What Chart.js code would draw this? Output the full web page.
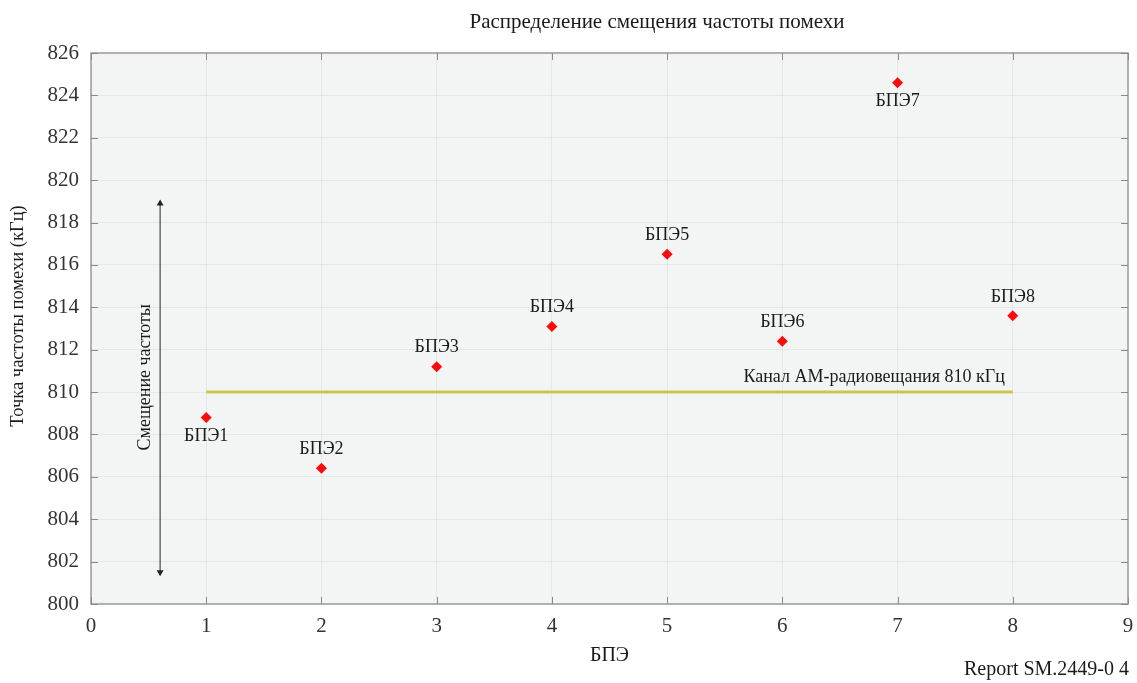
<!DOCTYPE html>
<html>
<head>
<meta charset="utf-8">
<script src="https://cdn.jsdelivr.net/npm/chart.js@4.4.1/dist/chart.umd.min.js"></script>
<style>
  html, body { margin: 0; padding: 0; background: #ffffff; }
  #wrap { width: 1137px; height: 683px; position: relative; }
</style>
</head>
<body>
<div id="wrap"><canvas id="c" width="1137" height="683"></canvas></div>
<script>
// Interference frequency per station (kHz)
const stations = [1, 2, 3, 4, 5, 6, 7, 8];
const stationNames = ['БПЭ1', 'БПЭ2', 'БПЭ3', 'БПЭ4', 'БПЭ5', 'БПЭ6', 'БПЭ7', 'БПЭ8'];
const freqKHz = [808.8, 806.4, 811.2, 813.1, 816.5, 812.4, 824.6, 813.6];
// label placement relative to the marker: 1 = above, -1 = below
const labelSide = [-1, 1, 1, 1, 1, 1, -1, 1];

// AM broadcast channel reference line
const channelKHz = 810;
const channelSpan = [1, 8];
const channelLabel = 'Канал АМ-радиовещания 810 кГц';

// Frequency offset range arrow
const offsetArrowX = 0.6;
const offsetArrowY = [801.5, 818.9];
const offsetLabel = 'Смещение частоты';

const xTicks = [0, 1, 2, 3, 4, 5, 6, 7, 8, 9];
const yTicks = [800, 802, 804, 806, 808, 810, 812, 814, 816, 818, 820, 822, 824, 826];

const chartTitle = 'Распределение смещения частоты помехи';
const yTitle = 'Точка частоты помехи (кГц)';
const xTitle = 'БПЭ';
const reportNo = 'Report SM.2449-0 4';

const serif = '"Liberation Serif", "Times New Roman", serif';

const pointData = stations.map((s, i) => ({ x: s, y: freqKHz[i] }));
const channelData = channelSpan.map(x => ({ x: x, y: channelKHz }));
const arrowData = offsetArrowY.map(y => ({ x: offsetArrowX, y: y }));

// Plot background, box frame and inward tick marks
const framePlugin = {
  id: 'frame',
  beforeDraw(chart) {
    const { ctx, chartArea: a } = chart;
    ctx.save();
    ctx.fillStyle = '#f3f5f5';
    ctx.fillRect(a.left, a.top, a.right - a.left, a.bottom - a.top);
    ctx.restore();
  },
  afterDatasetsDraw(chart) {
    const { ctx, chartArea: a, scales } = chart;
    ctx.save();
    ctx.strokeStyle = '#9a9a9a';
    ctx.lineWidth = 1.5;
    ctx.strokeRect(a.left, a.top, a.right - a.left, a.bottom - a.top);
    ctx.lineWidth = 1;
    ctx.strokeStyle = '#8a8a8a';
    const len = 7;
    ctx.beginPath();
    xTicks.forEach(v => {
      const px = Math.round(scales.x.getPixelForValue(v)) + 0.5;
      ctx.moveTo(px, a.bottom); ctx.lineTo(px, a.bottom - len);
      ctx.moveTo(px, a.top); ctx.lineTo(px, a.top + len);
    });
    yTicks.forEach(v => {
      const py = Math.round(scales.y.getPixelForValue(v)) + 0.5;
      ctx.moveTo(a.left, py); ctx.lineTo(a.left + len, py);
      ctx.moveTo(a.right, py); ctx.lineTo(a.right - len, py);
    });
    ctx.stroke();
    ctx.restore();
  }
};

// Titles, station names, channel caption, offset caption and report number
const labelsPlugin = {
  id: 'labels',
  afterDatasetsDraw(chart) {
    const { ctx, scales, chartArea: a } = chart;
    const meta = chart.getDatasetMeta(0);
    ctx.save();
    ctx.fillStyle = '#1a1a1a';
    ctx.textBaseline = 'middle';

    ctx.font = '21px ' + serif;
    ctx.textAlign = 'center';
    ctx.fillText(chartTitle, 657, 22);

    ctx.font = '18px ' + serif;
    meta.data.forEach((el, i) => {
      ctx.fillText(stationNames[i], el.x, el.y - labelSide[i] * 19);
    });

    ctx.textAlign = 'right';
    ctx.fillText(channelLabel, scales.x.getPixelForValue(channelSpan[1]) - 8,
                 scales.y.getPixelForValue(channelKHz) - 15);

    ctx.font = '20px ' + serif;
    ctx.fillText(reportNo, a.right + 1, 670);

    ctx.save();
    ctx.font = '18px ' + serif;
    ctx.translate(scales.x.getPixelForValue(offsetArrowX) - 15,
                  scales.y.getPixelForValue(810.7));
    ctx.rotate(-Math.PI / 2);
    ctx.textAlign = 'center';
    ctx.fillText(offsetLabel, 0, 0);
    ctx.restore();

    ctx.save();
    ctx.font = '18.5px ' + serif;
    ctx.translate(18, 316);
    ctx.rotate(-Math.PI / 2);
    ctx.textAlign = 'center';
    ctx.fillText(yTitle, 0, 0);
    ctx.restore();

    ctx.restore();
  }
};

new Chart(document.getElementById('c'), {
  type: 'scatter',
  data: {
    datasets: [
      {
        label: 'БПЭ',
        data: pointData,
        pointStyle: 'rectRot',
        pointRadius: 5.5,
        pointHoverRadius: 5.5,
        backgroundColor: '#ff0a0a',
        borderColor: '#ff0a0a',
        borderWidth: 0
      },
      {
        label: 'channel',
        type: 'line',
        data: channelData,
        borderColor: '#c9c94f',
        borderWidth: 3,
        pointRadius: 0,
        fill: false
      },
      {
        label: 'offset',
        type: 'line',
        data: arrowData,
        borderColor: '#555555',
        borderWidth: 1.3,
        pointStyle: 'triangle',
        pointRadius: 4,
        pointRotation: [180, 0],
        pointBackgroundColor: '#222222',
        pointBorderColor: '#222222',
        pointBorderWidth: 0,
        fill: false
      }
    ]
  },
  options: {
    responsive: false,
    animation: false,
    layout: { padding: { left: 0, right: 9, top: 53, bottom: 0 } },
    plugins: {
      legend: { display: false },
      tooltip: { enabled: false },
      title: { display: false }
    },
    scales: {
      x: {
        type: 'linear',
        min: 0, max: 9,
        afterBuildTicks(axis) { axis.ticks = xTicks.map(v => ({ value: v })); },
        afterFit(axis) { axis.height = 79; axis.paddingLeft = 0; axis.paddingRight = 0; },
        grid: { color: 'rgba(0,0,0,0.05)', drawTicks: false },
        border: { display: false },
        ticks: { color: '#333', font: { family: serif, size: 21 }, padding: 10, maxRotation: 0 },
        title: { display: true, text: xTitle, color: '#1a1a1a', font: { family: serif, size: 20 }, padding: { top: 0, bottom: 15 } }
      },
      y: {
        type: 'linear',
        min: 800, max: 826,
        afterBuildTicks(axis) { axis.ticks = yTicks.map(v => ({ value: v })); },
        afterFit(axis) { axis.width = 91; axis.paddingTop = 0; axis.paddingBottom = 0; },
        grid: { color: 'rgba(0,0,0,0.05)', drawTicks: false },
        border: { display: false },
        ticks: { color: '#333', font: { family: serif, size: 21 }, padding: 12 }
      }
    }
  },
  plugins: [framePlugin, labelsPlugin]
});
</script>
</body>
</html>
